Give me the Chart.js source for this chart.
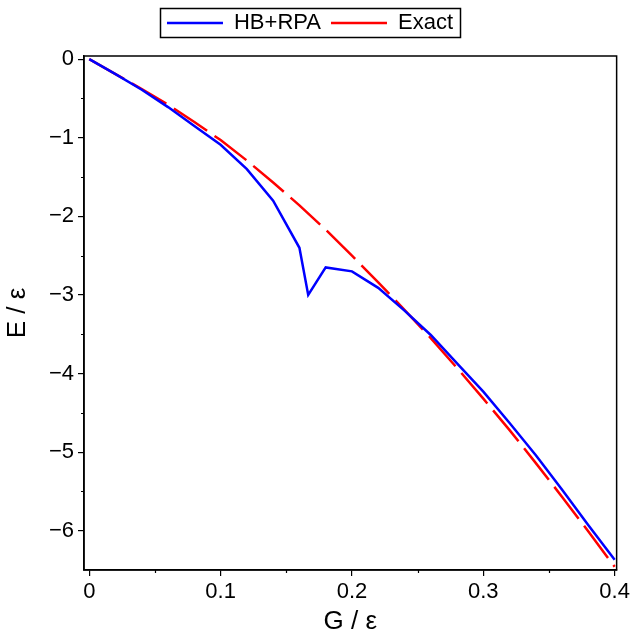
<!DOCTYPE html>
<html><head><meta charset="utf-8">
<script src="https://cdn.jsdelivr.net/npm/chart.js@4"></script>
<style>html,body{margin:0;padding:0;background:#fff}#wrap{width:633px;height:637px;position:relative}</style>
</head><body><div id="wrap"><canvas id="c"></canvas></div>
<script>
// HB+RPA series
const hbG = [0,0.02,0.04,0.06,0.08,0.10,0.12,0.14,0.16,0.1667,0.18,0.20,0.22,0.24,0.26,0.28,0.30,0.32,0.34,0.36,0.38,0.40];
const hbE = [0,-0.19,-0.39,-0.61,-0.85,-1.09,-1.40,-1.80,-2.40,-3.00,-2.65,-2.70,-2.91,-3.20,-3.51,-3.87,-4.23,-4.63,-5.04,-5.48,-5.93,-6.37];
// Exact series
const exG = [0,0.02,0.04,0.06,0.08,0.10,0.12,0.14,0.16,0.18,0.20,0.22,0.24,0.26,0.28,0.30,0.32,0.34,0.36,0.38,0.40];
const exE = [0,-0.19,-0.38,-0.58,-0.80,-1.03,-1.29,-1.57,-1.86,-2.17,-2.50,-2.84,-3.19,-3.55,-3.93,-4.32,-4.72,-5.14,-5.57,-6.01,-6.46];
// ticks
const xTickVals = [0,0.05,0.1,0.15,0.2,0.25,0.3,0.35,0.4];
const xTickLabels = ['0','','0.1','','0.2','','0.3','','0.4'];
const yTickVals = [-6,-5.5,-5,-4.5,-4,-3.5,-3,-2.5,-2,-1.5,-1,-0.5,0];
const yTickLabels = ['\u22126','','\u22125','','\u22124','','\u22123','','\u22122','','\u22121','','0'];
const seriesNames = ['HB+RPA','Exact'];

const FONT = '"Liberation Sans", Arial, Helvetica, sans-serif';
Chart.defaults.font.family = FONT;
Chart.defaults.color = '#000';

const frame = {
  id:'frame',
  beforeLayout(chart){
    const lg = chart.legend;
    if (lg && !lg._patched){
      lg._patched = true;
      const origFit = lg.fit.bind(lg);
      lg.fit = function(){ origFit(); this.height += 12; };
    }
  },
  afterDraw(chart){
    const {ctx, chartArea:a} = chart;
    ctx.save();
    ctx.strokeStyle='#000'; ctx.lineWidth=1.5;
    ctx.strokeRect(a.left, a.top, a.right-a.left, a.bottom-a.top);
    // minor ticks (shorter)
    ctx.lineWidth=1.2;
    const xs = chart.scales.x, ys = chart.scales.y;
    ctx.beginPath();
    xTickVals.forEach((v,i)=>{ if(!xTickLabels[i]){ const p=Math.round(xs.getPixelForValue(v))+0.5; ctx.moveTo(p,a.bottom); ctx.lineTo(p,a.bottom+3); } });
    yTickVals.forEach((v,i)=>{ if(!yTickLabels[i]){ const p=Math.round(ys.getPixelForValue(v))+0.5; ctx.moveTo(a.left,p); ctx.lineTo(a.left-3,p); } });
    ctx.stroke();
    const lg = chart.legend;
    if (lg && lg.legendHitBoxes && lg.legendHitBoxes.length){
      let l=Infinity,r=-Infinity,t=Infinity,b=-Infinity;
      lg.legendHitBoxes.forEach(h=>{l=Math.min(l,h.left);r=Math.max(r,h.left+h.width);t=Math.min(t,h.top);b=Math.max(b,h.top+h.height);});
      ctx.lineWidth=1.5;
      ctx.strokeRect(Math.round(l-7)+0.5, Math.round(t-4)+0.5, Math.round((r-l)+14), Math.round((b-t)+7));
    }
    ctx.restore();
  }
};

const tickCol = (labels) => (c) => (labels[c.index] ? '#000' : 'rgba(0,0,0,0)');

new Chart(document.getElementById('c'), {
  type:'line',
  data:{
    datasets:[
      {label:seriesNames[0], data:hbG.map((g,i)=>({x:g,y:hbE[i]})), borderColor:'#0000ff', backgroundColor:'#0000ff', borderWidth:2.5, pointRadius:0, tension:0, fill:false},
      {label:seriesNames[1], data:exG.map((g,i)=>({x:g,y:exE[i]})), borderColor:'#ff0000', backgroundColor:'#ff0000', borderWidth:2.5, borderDash:[40,9], pointRadius:0, tension:0, fill:false}
    ]
  },
  options:{
    responsive:true, maintainAspectRatio:false, animation:false,
    layout:{padding:{top:2,right:13,bottom:0,left:0}},
    plugins:{
      legend:{position:'top', labels:{usePointStyle:true, pointStyle:'line', pointStyleWidth:56, font:{size:22}, color:'#000', padding:10}},
      tooltip:{enabled:false}
    },
    scales:{
      x:{type:'linear', min:-0.004, max:0.4015,
        afterBuildTicks(s){ s.ticks = xTickVals.map(v=>({value:v})); },
        afterFit(s){ s.height = 67; },
        ticks:{autoSkip:false, maxRotation:0, font:{size:22}, color:'#000', padding:3, callback:(v,i)=>xTickLabels[i]},
        grid:{drawOnChartArea:false, drawTicks:true, tickLength:6, color:'#000', tickColor:tickCol(xTickLabels), lineWidth:1.2},
        border:{display:true, color:'#000', width:1.5},
        title:{display:true, text:'G / \u03b5', font:{size:26}, color:'#000', padding:{top:4,bottom:0}}
      },
      y:{type:'linear', min:-6.5, max:0.04,
        afterBuildTicks(s){ s.ticks = yTickVals.map(v=>({value:v})); },
        afterFit(s){ s.width = 84; },
        ticks:{autoSkip:false, font:{size:22}, color:'#000', padding:4, callback:(v,i)=>yTickLabels[i]},
        grid:{drawOnChartArea:false, drawTicks:true, tickLength:6, color:'#000', tickColor:tickCol(yTickLabels), lineWidth:1.2},
        border:{display:true, color:'#000', width:1.5},
        title:{display:true, text:'E / \u03b5', font:{size:26}, color:'#000', padding:{top:2,bottom:4}}
      }
    }
  },
  plugins:[frame]
});
</script></body></html>
